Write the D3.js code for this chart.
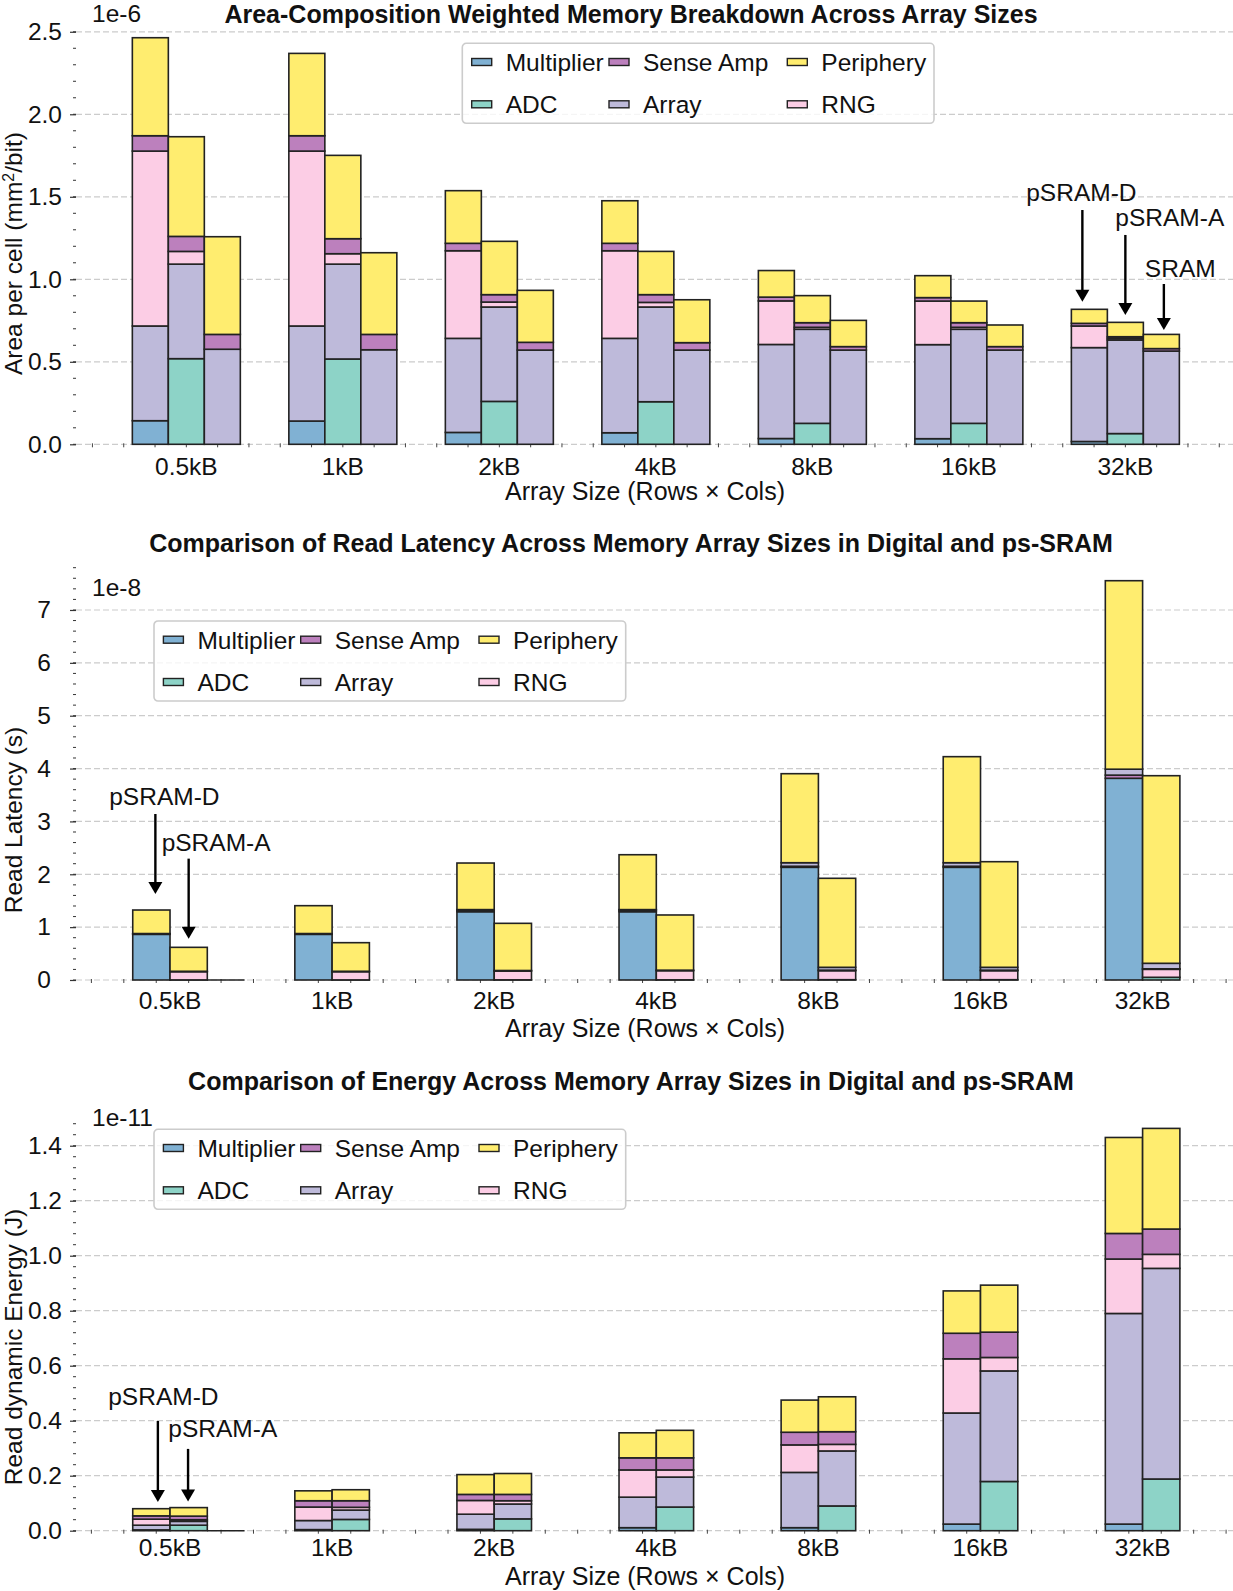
<!DOCTYPE html>
<html>
<head>
<meta charset="utf-8">
<script src="https://cdn.jsdelivr.net/npm/d3@7"></script>
<style>
  body { margin: 0; background: #fff; }
  svg text { font-family: "Liberation Sans", Arial, sans-serif; fill: #111; }
</style>
</head>
<body>
<div id="chart"></div>
<script>
// categories
const sizes = ["0.5kB", "1kB", "2kB", "4kB", "8kB", "16kB", "32kB"];
const legendOrder = ["Multiplier", "ADC", "Sense Amp", "Array", "Periphery", "RNG"];

// area per cell, x1e-6 mm^2/bit
const areaDMultiplier = [0.143, 0.141, 0.072, 0.070, 0.035, 0.034, 0.017];
const areaDArray      = [0.574, 0.576, 0.570, 0.572, 0.570, 0.570, 0.569];
const areaDRng        = [1.060, 1.060, 0.531, 0.531, 0.264, 0.264, 0.131];
const areaDSenseAmp   = [0.093, 0.093, 0.045, 0.045, 0.023, 0.021, 0.016];
const areaDPeriphery  = [0.594, 0.499, 0.319, 0.258, 0.161, 0.133, 0.085];
const areaAAdc        = [0.519, 0.517, 0.260, 0.258, 0.127, 0.127, 0.065];
const areaAArray      = [0.573, 0.575, 0.572, 0.574, 0.570, 0.570, 0.567];
const areaARng        = [0.077, 0.063, 0.030, 0.028, 0.012, 0.012, 0.010];
const areaASenseAmp   = [0.091, 0.091, 0.045, 0.047, 0.028, 0.028, 0.010];
const areaAPeriphery  = [0.604, 0.505, 0.323, 0.262, 0.164, 0.131, 0.087];
const areaSArray      = [0.576, 0.573, 0.571, 0.571, 0.571, 0.571, 0.565];
const areaSSenseAmp   = [0.090, 0.093, 0.047, 0.045, 0.021, 0.021, 0.015];
const areaSPeriphery  = [0.592, 0.495, 0.315, 0.260, 0.159, 0.131, 0.086];

// read latency, x1e-8 s
const latDMultiplier = [0.864, 0.864, 1.292, 1.292, 2.132, 2.132, 3.816];
const latDSenseAmp   = [0.010, 0.010, 0.030, 0.030, 0.020, 0.020, 0.060];
const latDArray      = [0.005, 0.005, 0.010, 0.010, 0.067, 0.067, 0.112];
const latDRng        = [0, 0, 0, 0, 0, 0, 0];
const latDPeriphery  = [0.445, 0.527, 0.881, 1.038, 1.684, 2.006, 3.566];
const latAAdc        = [0.002, 0.002, 0.003, 0.003, 0.006, 0.006, 0.051];
const latARng        = [0.155, 0.155, 0.167, 0.173, 0.170, 0.170, 0.151];
const latASenseAmp   = [0.008, 0.008, 0.010, 0.010, 0.010, 0.010, 0.010];
const latAArray      = [0, 0, 0, 0, 0.054, 0.054, 0.104];
const latAPeriphery  = [0.453, 0.541, 0.892, 1.044, 1.684, 1.998, 3.549];
const latSTotal      = [0];   // SRAM only shows as an empty bar at 0.5kB

// read dynamic energy, x1e-11 J
const enDMultiplier = [0.003, 0.004, 0.005, 0.011, 0.011, 0.024, 0.024];
const enDArray      = [0.017, 0.033, 0.055, 0.111, 0.201, 0.404, 0.766];
const enDRng        = [0.022, 0.049, 0.050, 0.099, 0.100, 0.197, 0.198];
const enDSenseAmp   = [0.012, 0.023, 0.022, 0.044, 0.046, 0.093, 0.093];
const enDPeriphery  = [0.026, 0.036, 0.072, 0.091, 0.117, 0.154, 0.349];
const enAAdc        = [0.020, 0.041, 0.043, 0.086, 0.090, 0.179, 0.188];
const enAArray      = [0.014, 0.034, 0.054, 0.109, 0.200, 0.402, 0.766];
const enARng        = [0.006, 0.010, 0.012, 0.026, 0.024, 0.049, 0.051];
const enASenseAmp   = [0.013, 0.024, 0.023, 0.044, 0.046, 0.092, 0.092];
const enAPeriphery  = [0.031, 0.040, 0.076, 0.100, 0.127, 0.171, 0.366];
const enSTotal      = [0];

const colors = {
  "Multiplier": "#80b1d3", "ADC": "#8dd3c7", "Array": "#bebada",
  "RNG": "#fccde5", "Sense Amp": "#bc80bd", "Periphery": "#ffed6f"
};

const FS = 24.5;     // ticks, legend, notes
const FT = 25;       // titles
const BW = 0.23;     // bar width in x units
const LEFT = 76;

const svg = d3.select("#chart").append("svg")
  .attr("width", 1233).attr("height", 1591);

function rows(series) {
  const keys = Object.keys(series);
  return sizes.map((s, i) => {
    const r = { size: s, i: i };
    keys.forEach(k => r[k] = series[k][i]);
    return r;
  });
}

function drawPanel(p) {
  const x = d3.scaleLinear().domain(p.xDomain).range([LEFT, p.xRight]);
  const y = d3.scaleLinear().domain([0, p.yMax]).range([p.bottom, p.top]);
  const g = svg.append("g");

  // grid lines
  g.selectAll(".grid").data(p.yTicks).join("line")
    .attr("x1", LEFT).attr("x2", p.xRight)
    .attr("y1", d => y(d)).attr("y2", d => y(d))
    .attr("stroke", "#cccccc").attr("stroke-width", 1.2)
    .attr("stroke-dasharray", "6,3");

  // y axis (no spine, only ticks)
  const yAxis = d3.axisLeft(y).tickValues(p.yTicks).tickFormat(p.yFormat)
    .tickSize(6).tickPadding(p.yPad);
  const ya = g.append("g").attr("transform", `translate(${LEFT},0)`).call(yAxis);
  ya.select(".domain").remove();
  ya.selectAll(".tick line").attr("stroke", "#333").attr("stroke-width", 1.2);
  ya.selectAll(".tick text").attr("font-size", FS).attr("fill", "#111");

  const yMinor = d3.range(0, p.yMax + 1e-9, p.yMinor);
  g.selectAll(".yminor").data(yMinor).join("line")
    .attr("x1", LEFT - 3).attr("x2", LEFT)
    .attr("y1", d => y(d)).attr("y2", d => y(d))
    .attr("stroke", "#333").attr("stroke-width", 1);

  // x axis: labels only, minor ticks every 0.2
  const xMinor = d3.range(Math.ceil(p.xDomain[0] / 0.2) * 0.2, p.xDomain[1], 0.2);
  g.selectAll(".xminor").data(xMinor).join("line")
    .attr("x1", d => x(d)).attr("x2", d => x(d))
    .attr("y1", p.bottom - 1).attr("y2", p.bottom + 3)
    .attr("stroke", "#444").attr("stroke-width", 1);

  // bars
  p.bars.forEach(bar => {
    const data = rows(bar.series);
    const stacked = d3.stack().keys(bar.keys)(data);
    stacked.forEach(layer => {
      g.selectAll(null).data(layer).join("rect")
        .attr("x", (d, i) => x(i + bar.slot * BW))
        .attr("width", x(BW) - x(0))
        .attr("y", d => y(d[1]))
        .attr("height", d => Math.max(0, y(d[0]) - y(d[1])))
        .attr("fill", colors[layer.key])
        .attr("stroke", "#222").attr("stroke-width", 1.6);
    });
  });

  // empty SRAM bars drawn as a flat edge
  if (p.emptyBars) {
    g.selectAll(null).data(p.emptyBars).join("line")
      .attr("x1", (d, i) => x(i + p.emptySlot * BW))
      .attr("x2", (d, i) => x(i + (p.emptySlot + 1) * BW))
      .attr("y1", d => y(d)).attr("y2", d => y(d))
      .attr("stroke", "#222").attr("stroke-width", 1.6);
  }

  // category labels
  g.selectAll(".xlab").data(sizes).join("text")
    .attr("x", (d, i) => x(i + p.tickShift))
    .attr("y", p.xLabelY).attr("dy", "0.36em")
    .attr("text-anchor", "middle").attr("font-size", FS)
    .text(d => d);

  // axis titles
  g.append("text").attr("x", 645).attr("y", p.xTitleY).attr("dy", "0.36em")
    .attr("text-anchor", "middle").attr("font-size", FT)
    .text("Array Size (Rows × Cols)");

  const yl = g.append("text")
    .attr("transform", `translate(13.5,${p.yTitleY}) rotate(-90)`)
    .attr("dy", "0.36em").attr("text-anchor", "middle").attr("font-size", FS);
  if (p.yTitleSup) {
    yl.append("tspan").text(p.yTitle[0]);
    yl.append("tspan").attr("baseline-shift", "super").attr("font-size", FS * 0.65).text(p.yTitleSup);
    yl.append("tspan").text(p.yTitle[1]);
  } else {
    yl.text(p.yTitle);
  }

  g.append("text").attr("x", 631).attr("y", p.titleY).attr("dy", "0.36em")
    .attr("text-anchor", "middle").attr("font-size", FT).attr("font-weight", "bold")
    .text(p.title);

  g.append("text").attr("x", 92).attr("y", p.offsetY).attr("dy", "0.36em")
    .attr("font-size", FS).text(p.offsetText);

  drawLegend(g, p.legendLeft, p.legendTop);

  // arrows
  p.notes.forEach(n => {
    const ax = x(n.group + (n.slot + 0.5) * BW) + n.dx;
    const tip = y(n.value) - n.gap;
    const tail = tip - n.len;
    g.append("line").attr("x1", ax).attr("x2", ax)
      .attr("y1", tail).attr("y2", tip - 10)
      .attr("stroke", "#000").attr("stroke-width", 2.4);
    g.append("path")
      .attr("d", `M${ax - 7},${tip - 12}L${ax + 7},${tip - 12}L${ax},${tip}Z`)
      .attr("fill", "#000");
    g.append("text").attr("x", ax + n.tx).attr("y", tail + n.ty).attr("dy", "0.36em")
      .attr("text-anchor", n.anchor).attr("font-size", FS).text(n.label);
  });
}

function drawLegend(g, left, top) {
  const lg = g.append("g").attr("transform", `translate(${left},${top})`);
  lg.append("rect").attr("width", 471.7).attr("height", 80).attr("rx", 4)
    .attr("fill", "#fff").attr("fill-opacity", 0.8)
    .attr("stroke", "#cccccc").attr("stroke-width", 1.6);
  const colX = [9.4, 146.7, 325];
  const rowY = [18.7, 61];
  legendOrder.forEach((k, i) => {
    const cx = colX[Math.floor(i / 2)], cy = rowY[i % 2];
    lg.append("rect").attr("x", cx).attr("y", cy - 3.5).attr("width", 20).attr("height", 7)
      .attr("fill", colors[k]).attr("stroke", "#222").attr("stroke-width", 1.4);
    lg.append("text").attr("x", cx + 34).attr("y", cy).attr("dy", "0.36em")
      .attr("font-size", FS).text(k);
  });
}

// panel 1: area
drawPanel({
  title: "Area-Composition Weighted Memory Breakdown Across Array Sizes",
  titleY: 13.5, offsetText: "1e-6", offsetY: 13.5,
  top: 26.0, bottom: 444.3, yMax: 2.535,
  yTicks: [0, 0.5, 1.0, 1.5, 2.0, 2.5], yMinor: 0.1, yFormat: d3.format(".1f"), yPad: 8,
  xDomain: [-0.705, 6.705], xRight: 1235.7, tickShift: 0,
  xLabelY: 466, xTitleY: 491,
  yTitle: ["Area per cell (mm", "/bit)"], yTitleSup: "2", yTitleY: 253.5,
  legendLeft: 462.3, legendTop: 43.3,
  bars: [
    { slot: -1.5, keys: ["Multiplier", "Array", "RNG", "Sense Amp", "Periphery"],
      series: { "Multiplier": areaDMultiplier, "Array": areaDArray, "RNG": areaDRng,
                "Sense Amp": areaDSenseAmp, "Periphery": areaDPeriphery } },
    { slot: -0.5, keys: ["ADC", "Array", "RNG", "Sense Amp", "Periphery"],
      series: { "ADC": areaAAdc, "Array": areaAArray, "RNG": areaARng,
                "Sense Amp": areaASenseAmp, "Periphery": areaAPeriphery } },
    { slot: 0.5, keys: ["Array", "Sense Amp", "Periphery"],
      series: { "Array": areaSArray, "Sense Amp": areaSSenseAmp, "Periphery": areaSPeriphery } }
  ],
  notes: [
    { label: "pSRAM-D", group: 6, slot: -1.5, value: d3.sum([areaDMultiplier, areaDArray, areaDRng, areaDSenseAmp, areaDPeriphery], a => a[6]),
      dx: -7, gap: 7.6, len: 91.7, tx: -1, ty: -18.3, anchor: "middle" },
    { label: "pSRAM-A", group: 6, slot: -0.5, value: d3.sum([areaAAdc, areaAArray, areaARng, areaASenseAmp, areaAPeriphery], a => a[6]),
      dx: 0, gap: 7.4, len: 80, tx: -10, ty: -17.5, anchor: "start" },
    { label: "SRAM", group: 6, slot: 0.5, value: d3.sum([areaSArray, areaSSenseAmp, areaSPeriphery], a => a[6]),
      dx: 2.5, gap: 4.4, len: 46, tx: -19, ty: -16, anchor: "start" }
  ]
});

// panel 2: latency
drawPanel({
  title: "Comparison of Read Latency Across Memory Array Sizes in Digital and ps-SRAM",
  titleY: 543, offsetText: "1e-8", offsetY: 587,
  top: 567.7, bottom: 980, yMax: 7.8,
  yTicks: [0, 1, 2, 3, 4, 5, 6, 7], yMinor: 0.2, yFormat: d3.format("d"), yPad: 19,
  xDomain: [-0.695, 6.455], xRight: 1235, tickShift: -0.5 * BW,
  xLabelY: 1000.6, xTitleY: 1028,
  yTitle: "Read Latency (s)", yTitleY: 820,
  legendLeft: 154, legendTop: 621,
  bars: [
    { slot: -1.5, keys: ["Multiplier", "Sense Amp", "Array", "RNG", "Periphery"],
      series: { "Multiplier": latDMultiplier, "Sense Amp": latDSenseAmp, "Array": latDArray,
                "RNG": latDRng, "Periphery": latDPeriphery } },
    { slot: -0.5, keys: ["ADC", "RNG", "Sense Amp", "Array", "Periphery"],
      series: { "ADC": latAAdc, "RNG": latARng, "Sense Amp": latASenseAmp,
                "Array": latAArray, "Periphery": latAPeriphery } }
  ],
  emptyBars: latSTotal, emptySlot: 0.5,
  notes: [
    { label: "pSRAM-D", group: 0, slot: -1.5, value: d3.sum([latDMultiplier, latDSenseAmp, latDArray, latDRng, latDPeriphery], a => a[0]),
      dx: 4, gap: 16, len: 80, tx: 9, ty: -18.3, anchor: "middle" },
    { label: "pSRAM-A", group: 0, slot: -0.5, value: d3.sum([latAAdc, latARng, latASenseAmp, latAArray, latAPeriphery], a => a[0]),
      dx: 0, gap: 8.7, len: 80, tx: -27, ty: -16.6, anchor: "start" }
  ]
});

// panel 3: energy
drawPanel({
  title: "Comparison of Energy Across Memory Array Sizes in Digital and ps-SRAM",
  titleY: 1081, offsetText: "1e-11", offsetY: 1116.7,
  top: 1116.3, bottom: 1530.7, yMax: 1.507,
  yTicks: [0, 0.2, 0.4, 0.6, 0.8, 1.0, 1.2, 1.4], yMinor: 0.04, yFormat: d3.format(".1f"), yPad: 8,
  xDomain: [-0.695, 6.455], xRight: 1235, tickShift: -0.5 * BW,
  xLabelY: 1547.6, xTitleY: 1576,
  yTitle: "Read dynamic Energy (J)", yTitleY: 1347,
  legendLeft: 154, legendTop: 1129.3,
  bars: [
    { slot: -1.5, keys: ["Multiplier", "Array", "RNG", "Sense Amp", "Periphery"],
      series: { "Multiplier": enDMultiplier, "Array": enDArray, "RNG": enDRng,
                "Sense Amp": enDSenseAmp, "Periphery": enDPeriphery } },
    { slot: -0.5, keys: ["ADC", "Array", "RNG", "Sense Amp", "Periphery"],
      series: { "ADC": enAAdc, "Array": enAArray, "RNG": enARng,
                "Sense Amp": enASenseAmp, "Periphery": enAPeriphery } }
  ],
  emptyBars: enSTotal, emptySlot: 0.5,
  notes: [
    { label: "pSRAM-D", group: 0, slot: -1.5, value: d3.sum([enDMultiplier, enDArray, enDRng, enDSenseAmp, enDPeriphery], a => a[0]),
      dx: 6.5, gap: 6.7, len: 81, tx: 5.5, ty: -25, anchor: "middle" },
    { label: "pSRAM-A", group: 0, slot: -0.5, value: d3.sum([enAAdc, enAArray, enARng, enASenseAmp, enAPeriphery], a => a[0]),
      dx: -0.6, gap: 6, len: 52.7, tx: -19.7, ty: -20.7, anchor: "start" }
  ]
});
</script>
</body>
</html>
